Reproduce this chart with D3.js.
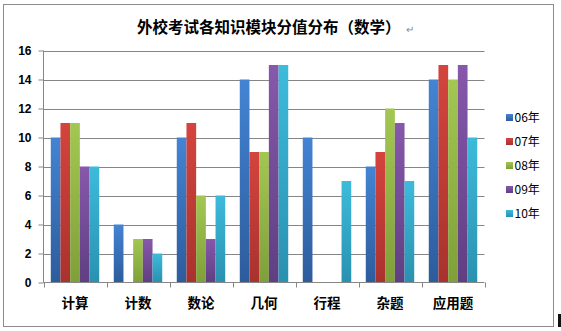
<!DOCTYPE html>
<html>
<head>
<meta charset="utf-8">
<script src="https://cdn.jsdelivr.net/npm/d3@7"></script>
<style>
  html, body { margin: 0; padding: 0; background: #fff; }
  svg { display: block; }
</style>
</head>
<body>
<svg id="chart" width="561" height="331"></svg>
<script>
// Knowledge modules and yearly score values (math)
const categories = ["计算", "计数", "数论", "几何", "行程", "杂题", "应用题"];
const seriesNames = ["06年", "07年", "08年", "09年", "10年"];
const values06 = [10, 4, 10, 14, 10, 8, 14];
const values07 = [11, 0, 11, 9, 0, 9, 15];
const values08 = [11, 3, 6, 9, 0, 12, 14];
const values09 = [8, 3, 3, 15, 0, 11, 15];
const values10 = [8, 2, 6, 15, 7, 7, 10];
const yTicks = [0, 2, 4, 6, 8, 10, 12, 14, 16];
const titleText = "外校考试各知识模块分值分布（数学）";

const seriesValues = [values06, values07, values08, values09, values10];
// top / bottom shades of each series fill
const seriesColors = [
  ["#4384d3", "#2d5c9c"],
  ["#d4443e", "#a9322e"],
  ["#a3c752", "#7f9f3a"],
  ["#8758ab", "#5f3f82"],
  ["#3dbbdb", "#2a91b0"]
];

const svg = d3.select("#chart");
const cjk = "'Noto Sans CJK SC', 'Noto Sans', sans-serif";
const latin = "'Liberation Sans', Arial, sans-serif";

// outer frame
svg.append("rect")
  .attr("x", 3.5).attr("y", 4.5)
  .attr("width", 550).attr("height", 322)
  .attr("fill", "#fff").attr("stroke", "#8c8c8c").attr("stroke-width", 1);

// small dark mark at the bottom-right edge
svg.append("rect")
  .attr("x", 558).attr("y", 314).attr("width", 3).attr("height", 13)
  .attr("fill", "#111");

// gradients
const defs = svg.append("defs");
seriesColors.forEach((c, i) => {
  const g = defs.append("linearGradient")
    .attr("id", "grad" + i)
    .attr("x1", 0).attr("y1", 0).attr("x2", 0).attr("y2", 1);
  g.append("stop").attr("offset", "0%").attr("stop-color", c[0]);
  g.append("stop").attr("offset", "100%").attr("stop-color", c[1]);
});

const plot = { left: 43.5, right: 484.5, top: 50.5, bottom: 282.5 };

const x = d3.scaleBand()
  .domain(categories)
  .range([plot.left, plot.right])
  .paddingInner(0)
  .paddingOuter(0);

const innerPad = (x.bandwidth() - x.bandwidth() / 6.5 * 5) / 2;
const xSeries = d3.scaleBand()
  .domain(seriesNames)
  .range([innerPad, x.bandwidth() - innerPad])
  .padding(0);

const y = d3.scaleLinear()
  .domain([0, 16])
  .range([plot.bottom, plot.top]);

// horizontal gridlines
svg.append("g")
  .selectAll("line")
  .data(yTicks.filter(d => d > 0))
  .join("line")
  .attr("x1", plot.left).attr("x2", plot.right)
  .attr("y1", d => Math.round(y(d)) + 0.5)
  .attr("y2", d => Math.round(y(d)) + 0.5)
  .attr("stroke", "#868686").attr("stroke-width", 1);

// bars
const groups = svg.append("g")
  .selectAll("g")
  .data(categories)
  .join("g")
  .attr("transform", d => `translate(${x(d)},0)`);

groups.selectAll("rect")
  .data((d, ci) => seriesNames.map((s, si) => ({ s, si, v: seriesValues[si][ci] })))
  .join("rect")
  .filter(d => d.v > 0)
  .attr("x", d => xSeries(d.s))
  .attr("width", xSeries.bandwidth())
  .attr("y", d => y(d.v))
  .attr("height", d => y(0) - y(d.v))
  .attr("fill", d => `url(#grad${d.si})`);

// y axis
const yAxis = svg.append("g")
  .attr("transform", `translate(${plot.left},0)`)
  .call(d3.axisLeft(y).tickValues(yTicks).tickSize(5).tickPadding(7).tickFormat(d3.format("d")));
yAxis.selectAll(".tick line").attr("stroke", "#868686");
yAxis.selectAll(".tick text")
  .attr("font-family", latin).attr("font-size", 12).attr("font-weight", "bold").attr("fill", "#000");
yAxis.selectAll(".domain").remove();
yAxis.append("line")
  .attr("x1", 0).attr("x2", 0).attr("y1", plot.top).attr("y2", plot.bottom)
  .attr("stroke", "#868686");

// x axis
const xAxis = svg.append("g")
  .attr("transform", `translate(0,${plot.bottom})`);
xAxis.append("line")
  .attr("x1", plot.left).attr("x2", plot.right).attr("y1", 0).attr("y2", 0)
  .attr("stroke", "#868686");
xAxis.selectAll("line.tk")
  .data(categories.map(c => x(c)).concat([plot.right]))
  .join("line")
  .attr("class", "tk")
  .attr("x1", d => Math.round(d) + 0.5).attr("x2", d => Math.round(d) + 0.5)
  .attr("y1", 0).attr("y2", 5)
  .attr("stroke", "#868686");
xAxis.selectAll("text")
  .data(categories)
  .join("text")
  .attr("x", d => x(d) + x.bandwidth() / 2)
  .attr("y", 25)
  .attr("text-anchor", "middle")
  .attr("font-family", cjk).attr("font-size", 13.5).attr("font-weight", "bold")
  .attr("fill", "#000")
  .text(d => d);

// title
const title = svg.append("text")
  .attr("x", 137).attr("y", 33)
  .attr("text-anchor", "start")
  .attr("font-family", cjk).attr("font-size", 15.5).attr("font-weight", "bold")
  .attr("fill", "#000");
title.append("tspan").text(titleText);
title.append("tspan")
  .attr("dx", 5).attr("font-size", 10).attr("font-weight", "normal")
  .attr("fill", "#888").attr("font-family", latin)
  .text("↵");

// legend
const legend = svg.append("g")
  .selectAll("g")
  .data(seriesNames)
  .join("g")
  .attr("transform", (d, i) => `translate(506,${117.5 + i * 24})`);
legend.append("rect")
  .attr("x", 0).attr("y", -3.5).attr("width", 7).attr("height", 7)
  .attr("fill", (d, i) => `url(#grad${i})`);
legend.append("text")
  .attr("x", 8.5).attr("y", 4.5)
  .attr("font-family", cjk).attr("font-size", 12)
  .attr("fill", "#000")
  .text(d => d);
</script>
</body>
</html>
